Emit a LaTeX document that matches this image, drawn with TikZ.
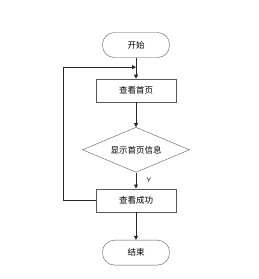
\documentclass[tikz,border=0pt]{standalone}
\usepackage{fontspec}
\newfontfamily\cjk{Noto Sans CJK SC}
\usetikzlibrary{arrows.meta,positioning,shapes.geometric,calc}

\begin{document}
\begin{tikzpicture}[x=1pt, y=1pt, >={Triangle[length=4pt,width=4pt]},
  every node/.style={font=\cjk\fontsize{8.5}{10}\selectfont, align=center},
  term/.style={draw=black!65, rounded corners=12pt, minimum width=67pt, minimum height=25pt},
  proc/.style={draw=black!65, minimum width=80pt, minimum height=23pt},
  cond/.style={draw=black!65, diamond, aspect=2.4, minimum width=107pt, minimum height=45pt, inner sep=0pt},
  line/.style={draw=black!85, line width=0.8pt}]
\useasboundingbox (0,0) rectangle (259,-279);
\node[term] (start) at (136,-45) {开始};
\node[proc, below=21pt of start] (home) {查看首页};
\node[cond, below=25pt of home] (show) {显示首页信息};
\node[proc, below=16pt of show] (done) {查看成功};
\node[term, below=28pt of done] (stop) {结束};
\draw[line, ->] (start) -- (home);
\draw[line, ->] (home) -- (show);
\draw[line, ->] (show) -- node[right=7pt, font=\sffamily\fontsize{6.5}{7}\selectfont] {Y} (done);
\draw[line, ->] (done) -- (stop);
\draw[line, ->] (done.west) -- ++(-32,0) |- ($(start.south)!0.45!(home.north)$);
\end{tikzpicture}
\end{document}
